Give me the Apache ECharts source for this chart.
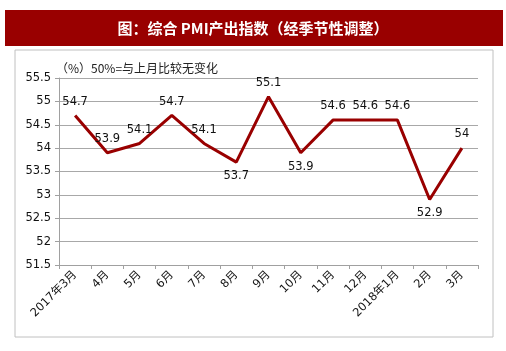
<!DOCTYPE html>
<html>
<head>
<meta charset="utf-8">
<script src="https://cdn.jsdelivr.net/npm/echarts@6/dist/echarts.min.js"></script>
<style>
  html, body { margin: 0; padding: 0; background: #fff; }
  #main { width: 506px; height: 351px; }
</style>
</head>
<body>
<div id="main"></div>
<script>
  // 数据
  var months = ["2017年3月", "4月", "5月", "6月", "7月", "8月", "9月", "10月", "11月", "12月", "2018年1月", "2月", "3月"];
  var pmiValues = [54.7, 53.9, 54.1, 54.7, 54.1, 53.7, 55.1, 53.9, 54.6, 54.6, 54.6, 52.9, 54];
  var yTicks = [51.5, 55.5, 0.5]; // min, max, interval

  var below = [5, 7, 11]; // 标签放在下方的点

  var chart = echarts.init(document.getElementById("main"));
  var option = {
    animation: false,
    textStyle: { fontFamily: "DejaVu Sans, Noto Sans CJK SC" },
    graphic: [
      {
        type: "rect",
        shape: { x: 5, y: 10, width: 498, height: 36 },
        style: { fill: "#990000" }
      },
      {
        type: "text",
        x: 253, y: 28,
        style: {
          text: "图：综合 PMI产出指数（经季节性调整）",
          fill: "#fff",
          font: "bold 15px 'Noto Sans CJK SC'",
          align: "center",
          verticalAlign: "middle"
        }
      },
      {
        type: "rect",
        shape: { x: 15, y: 50, width: 478, height: 287 },
        style: { fill: "none", stroke: "#c0c0c0", lineWidth: 1 }
      },
      {
        type: "text",
        x: 56, y: 68,
        style: {
          text: "（%）50%=与上月比较无变化",
          fill: "#222",
          font: "12px 'Noto Sans CJK SC'",
          align: "left",
          verticalAlign: "middle"
        }
      }
    ],
    grid: { left: 59, right: 28, top: 78, bottom: 86 },
    xAxis: {
      type: "category",
      data: months,
      boundaryGap: true,
      axisLine: { lineStyle: { color: "#a0a0a0", width: 1 } },
      axisTick: { show: true, length: 4, lineStyle: { color: "#a0a0a0" } },
      axisLabel: { rotate: 45, color: "#111", fontSize: 11.5, interval: 0, margin: 8 }
    },
    yAxis: {
      type: "value",
      min: yTicks[0],
      max: yTicks[1],
      interval: yTicks[2],
      axisLine: { show: true, lineStyle: { color: "#a0a0a0", width: 1 } },
      axisTick: { show: true, length: 4, lineStyle: { color: "#a0a0a0" } },
      axisLabel: { color: "#111", fontSize: 11.5, margin: 8 },
      splitLine: { show: true, lineStyle: { color: "#a8a8a8", width: 1 } }
    },
    series: [{
      type: "line",
      data: pmiValues.map(function (v, i) {
        return { value: v, label: { position: below.indexOf(i) >= 0 ? "bottom" : "top" } };
      }),
      symbol: "circle",
      symbolSize: 0,
      showSymbol: true,
      lineStyle: { color: "#990000", width: 3 },
      itemStyle: { color: "#990000" },
      label: {
        show: true,
        color: "#111",
        fontSize: 11.5,
        distance: 8
      }
    }]
  };
  chart.setOption(option);
</script>
</body>
</html>
